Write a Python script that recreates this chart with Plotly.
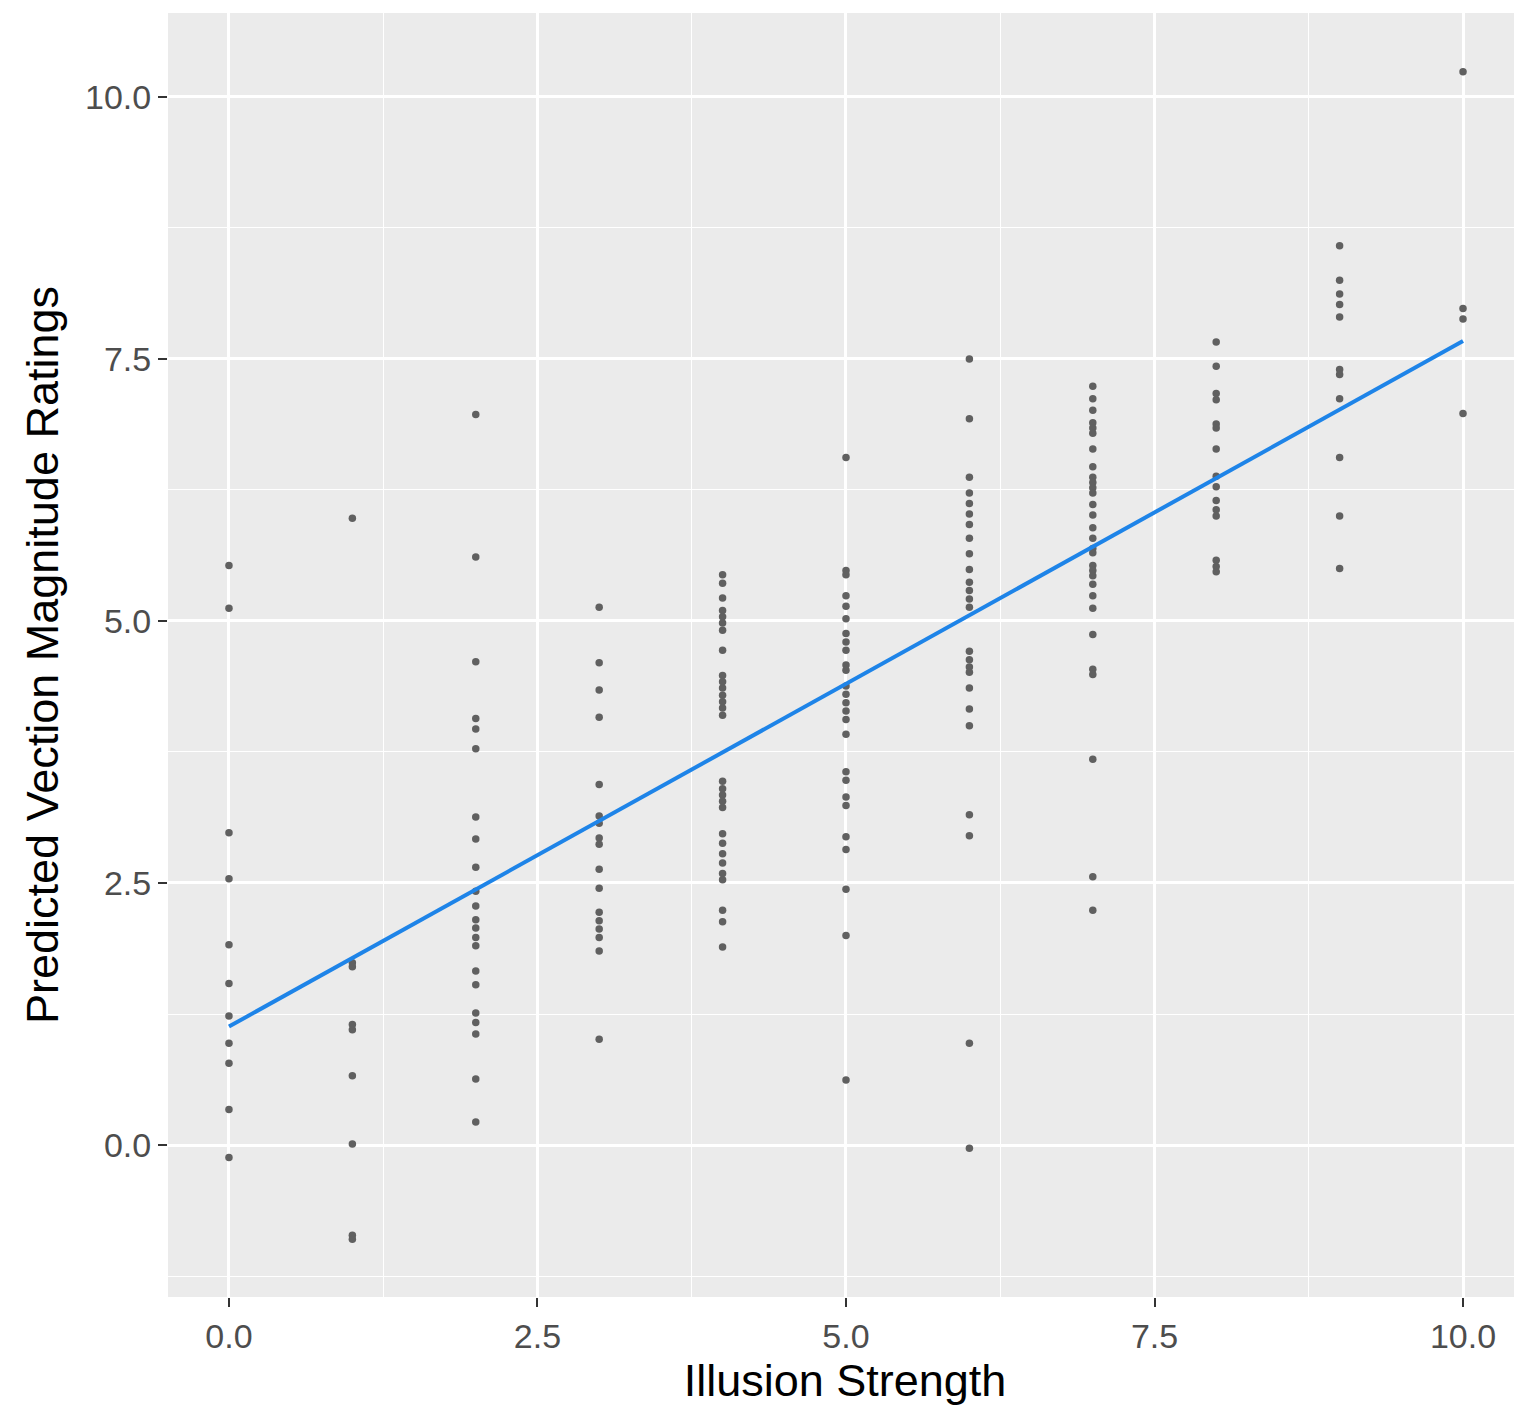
import plotly.graph_objects as go

# Illusion strength levels and predicted vection magnitude ratings
x0 = [5.53, 5.12, 2.98, 2.54, 1.91, 1.54, 1.23, 0.97, 0.78, 0.34, -0.12]
x1 = [5.98, 1.74, 1.70, 1.15, 1.10, 0.66, 0.01, -0.86, -0.90]
x2 = [6.97, 5.61, 4.61, 4.07, 3.97, 3.78, 3.13, 2.92, 2.65, 2.42, 2.28, 2.15,
      2.07, 1.98, 1.90, 1.66, 1.53, 1.26, 1.17, 1.06, 0.63, 0.22]
x3 = [5.13, 4.60, 4.34, 4.08, 3.44, 3.14, 3.07, 2.93, 2.87, 2.63, 2.45, 2.22,
      2.14, 2.06, 1.98, 1.85, 1.01]
x4 = [5.44, 5.36, 5.22, 5.10, 5.04, 4.98, 4.91, 4.72, 4.48, 4.42, 4.36, 4.29,
      4.23, 4.17, 4.10, 3.47, 3.40, 3.34, 3.28, 3.22, 2.97, 2.88, 2.78, 2.69,
      2.59, 2.53, 2.24, 2.13, 1.89]
x5 = [6.56, 5.48, 5.44, 5.24, 5.14, 5.02, 4.88, 4.80, 4.72, 4.58, 4.53, 4.38,
      4.30, 4.22, 4.14, 4.06, 3.92, 3.56, 3.48, 3.32, 3.24, 2.94, 2.82, 2.44,
      2.00, 0.62]
x6 = [7.50, 6.93, 6.37, 6.22, 6.12, 6.02, 5.92, 5.79, 5.64, 5.49, 5.37, 5.29,
      5.21, 5.13, 4.71, 4.63, 4.56, 4.51, 4.36, 4.16, 4.00, 3.15, 2.95, 0.97, -0.03]
x7 = [7.24, 7.12, 7.01, 6.89, 6.84, 6.79, 6.64, 6.47, 6.37, 6.32, 6.27, 6.22,
      6.11, 6.01, 5.89, 5.79, 5.69, 5.65, 5.53, 5.48, 5.43, 5.35, 5.24, 5.12,
      4.87, 4.54, 4.49, 3.68, 2.56, 2.24]
x8 = [7.66, 7.43, 7.17, 7.11, 6.88, 6.84, 6.64, 6.38, 6.28, 6.15, 6.06, 6.00,
      5.58, 5.52, 5.47]
x9 = [8.58, 8.25, 8.12, 8.02, 7.90, 7.40, 7.35, 7.12, 6.56, 6.00, 5.50]
x10 = [10.24, 7.98, 7.88, 6.98]

groups = [x0, x1, x2, x3, x4, x5, x6, x7, x8, x9, x10]
strength = []
ratings = []
for lvl, vals in enumerate(groups):
    strength += [lvl] * len(vals)
    ratings += vals

# Fitted regression line endpoints
fit_x = [0, 10]
fit_y = [1.13, 7.67]

x_ticks = [0, 2.5, 5, 7.5, 10]
x_tick_labels = ["0.0", "2.5", "5.0", "7.5", "10.0"]
y_ticks = [0, 2.5, 5, 7.5, 10]
y_tick_labels = ["0.0", "2.5", "5.0", "7.5", "10.0"]

fig = go.Figure()
fig.add_trace(go.Scatter(
    x=strength, y=ratings, mode="markers",
    marker=dict(size=7.5, color="#606060"),
    showlegend=False, hoverinfo="x+y"))
fig.add_trace(go.Scatter(
    x=fit_x, y=fit_y, mode="lines",
    line=dict(color="#1E84E8", width=4),
    showlegend=False))

font_family = "Liberation Sans, Arial, sans-serif"
axis_common = dict(
    showgrid=True, gridcolor="white", gridwidth=3,
    zeroline=False, showline=False, automargin=False,
    ticks="outside", ticklen=9, tickwidth=2, tickcolor="#333333",
    tickfont=dict(family=font_family, size=34, color="#4D4D4D"),
    minor=dict(showgrid=True, gridcolor="white", gridwidth=1.3, dtick=1.25, tick0=0, ticks=""),
)

fig.update_layout(
    width=1514, height=1405,
    paper_bgcolor="white", plot_bgcolor="#EBEBEB",
    margin=dict(l=160, r=0, t=5, b=116),
    font=dict(family=font_family),
    xaxis=dict(
        range=[-0.494, 10.478],
        tickvals=x_ticks, ticktext=x_tick_labels,
        title=dict(text="Illusion Strength", font=dict(family=font_family, size=45, color="black"), standoff=8),
        **axis_common),
    yaxis=dict(
        range=[-1.45, 10.80],
        tickvals=y_ticks, ticktext=y_tick_labels,
        title=dict(text="Predicted Vection Magnitude Ratings", font=dict(family=font_family, size=45, color="black"), standoff=12),
        **axis_common),
)

fig.write_html("out.html")
